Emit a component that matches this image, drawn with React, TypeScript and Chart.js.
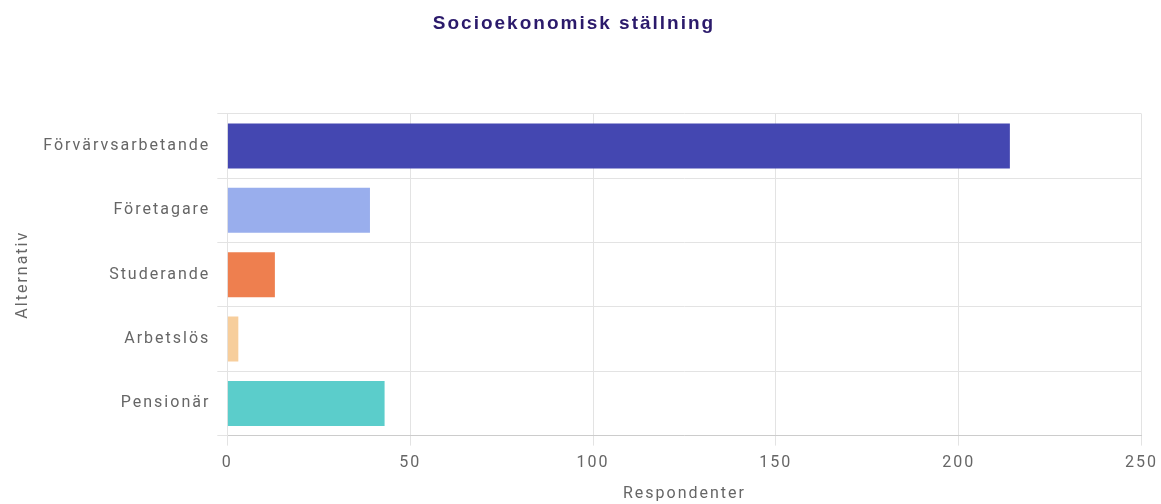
import React, { useEffect, useRef } from "react";
import { Chart, registerables } from "chart.js";

Chart.register(...registerables);

const categories = ["Förvärvsarbetande", "Företagare", "Studerande", "Arbetslös", "Pensionär"];
const values = [214, 39, 13, 3, 43];
const barColors = ["#4447B1", "#99AEED", "#EE7F4F", "#F7CE9C", "#5BCDCB"];
const xTicks = [0, 50, 100, 150, 200, 250];
const titleText = "Socioekonomisk ställning";
const xTitle = "Respondenter";
const yTitle = "Alternativ";

const TITLE_FONT = "bold 19px 'Liberation Sans', Arial";
const TITLE_COLOR = "#2B1A6B";

const spacingPlugin = {
  id: "letterSpacing",
  beforeUpdate(chart: any) {
    chart.ctx.letterSpacing = "2px";
  },
  beforeLayout(chart: any) {
    chart.ctx.letterSpacing = "2px";
  },
  beforeDraw(chart: any) {
    chart.ctx.letterSpacing = "2px";
  },
  afterDraw(chart: any) {
    const ctx = chart.ctx;
    const tb = chart.titleBlock;
    ctx.save();
    ctx.letterSpacing = "2px";
    ctx.font = TITLE_FONT;
    ctx.fillStyle = TITLE_COLOR;
    ctx.textAlign = "center";
    ctx.textBaseline = "middle";
    const y = tb ? tb.top + 4 + 11.4 : 20;
    ctx.fillText(titleText, chart.width / 2 - 9, y);
    ctx.restore();
  },
};

export default function App() {
  const ref = useRef<HTMLCanvasElement | null>(null);
  useEffect(() => {
    document.body.style.margin = "0";
    const ctx = ref.current!;
    const chart = new Chart(ctx, {
      type: "bar",
      data: {
        labels: categories,
        datasets: [
          {
            data: values,
            backgroundColor: barColors,
            borderWidth: 0,
            barPercentage: 0.7,
            categoryPercentage: 1,
          },
        ],
      },
      plugins: [spacingPlugin],
      options: {
        indexAxis: "y",
        animation: false,
        responsive: true,
        maintainAspectRatio: false,
        layout: { padding: { left: 13, right: 0, top: 8, bottom: 0 } },
        plugins: {
          legend: { display: false },
          tooltip: { enabled: false },
          title: {
            display: true,
            text: titleText,
            color: "rgba(0,0,0,0)",
            font: { family: "'Liberation Sans', Arial", size: 19, weight: "bold" },
            padding: { top: 4, bottom: 79 },
          },
        },
        scales: {
          x: {
            min: 0,
            max: 250,
            afterBuildTicks: (axis: any) => {
              axis.ticks = xTicks.map((v) => ({ value: v }));
            },
            grid: { color: "#E3E3E3", tickLength: 10 },
            border: { color: "#CCCCCC" },
            ticks: {
              color: "#666666",
              padding: 8,
              font: { family: "Roboto", size: 16 },
            },
            title: {
              display: true,
              text: xTitle,
              color: "#666666",
              font: { family: "Roboto", size: 16 },
              padding: { top: 4, bottom: 0 },
            },
          },
          y: {
            grid: { color: "#E3E3E3", tickLength: 10, offset: true },
            border: { color: "#E3E3E3" },
            ticks: {
              color: "#666666",
              padding: 7,
              font: { family: "Roboto", size: 16 },
            },
            title: {
              display: true,
              text: yTitle,
              color: "#666666",
              font: { family: "Roboto", size: 16 },
              padding: { top: 0, bottom: 4 },
            },
          },
        },
      },
    });
    return () => chart.destroy();
  }, []);
  return (
    <div style={{ width: 1161, height: 504, overflow: "hidden" }}>
      <div style={{ width: 1166, height: 504, position: "relative" }}>
        <canvas ref={ref} />
      </div>
    </div>
  );
}
